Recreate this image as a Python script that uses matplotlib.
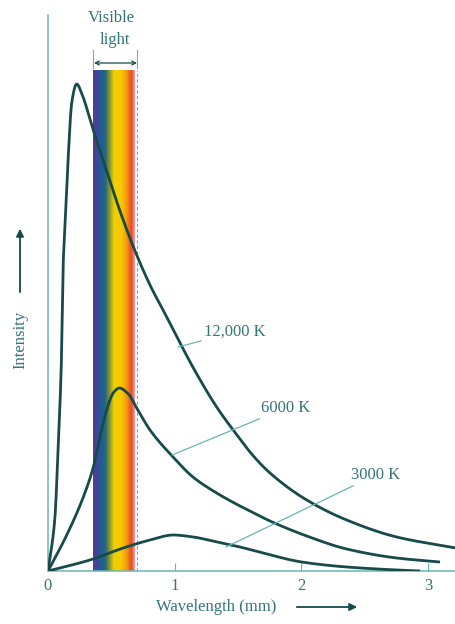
import numpy as np
import matplotlib.pyplot as plt
from matplotlib.colors import LinearSegmentedColormap
from matplotlib.patches import FancyArrowPatch

# values (wavelength in um, intensity in arbitrary units)
wl_12000 = [0, 0.055, 0.079, 0.108, 0.118, 0.134, 0.160, 0.187, 0.226, 0.268, 0.331,
            0.384, 0.463, 0.568, 0.700, 0.805, 0.937, 1.042, 1.174, 1.331, 1.515,
            1.594, 1.752, 2.042, 2.357, 2.752, 3.220]
int_12000 = [0, 54, 121, 221, 300, 345, 415, 468, 487, 477, 452,
             430, 400, 360, 316, 286, 254, 228, 197, 164, 132,
             119, 98, 71, 51, 34, 23]

wl_6000 = [0, 0.148, 0.279, 0.358, 0.410, 0.463, 0.515, 0.563, 0.634, 0.700, 0.805,
           0.987, 1.144, 1.331, 1.515, 1.594, 1.752, 2.042, 2.357, 2.752, 3.094]
int_6000 = [0, 36, 74, 104, 134, 161, 178, 183, 177, 163, 141,
            114, 94, 78, 65, 60, 50, 35, 22, 13, 9]

wl_3000 = [0, 0.331, 0.594, 0.805, 0.989, 1.147, 1.331, 1.515, 1.697, 2.002, 2.357, 2.752, 2.936]
int_3000 = [0, 11, 23, 31, 36, 34, 29, 24, 18, 9, 4, 1, 0]

labels = ["12,000 K", "6000 K", "3000 K"]
visible = (0.355, 0.70)
xticks = [0, 1, 2, 3]

ink = "#174a4a"
axc = "#6ab4b4"
txt = "#357575"
font = "Liberation Serif"


def smooth(x, y, n=400):
    # monotone cubic (pchip) through the read points, only for drawing
    x = np.asarray(x, float)
    y = np.asarray(y, float)
    h = np.diff(x)
    d = np.diff(y) / h
    m = np.zeros_like(y)
    for k in range(1, len(x) - 1):
        if d[k - 1] * d[k] > 0:
            w1 = 2 * h[k] + h[k - 1]
            w2 = h[k] + 2 * h[k - 1]
            m[k] = (w1 + w2) / (w1 / d[k - 1] + w2 / d[k])
    m[0] = d[0]
    m[-1] = d[-1]
    xs = np.linspace(x[0], x[-1], n)
    idx = np.clip(np.searchsorted(x, xs) - 1, 0, len(x) - 2)
    t = (xs - x[idx]) / h[idx]
    h00 = 2 * t**3 - 3 * t**2 + 1
    h10 = t**3 - 2 * t**2 + t
    h01 = -2 * t**3 + 3 * t**2
    h11 = t**3 - t**2
    ys = h00 * y[idx] + h10 * h[idx] * m[idx] + h01 * y[idx + 1] + h11 * h[idx] * m[idx + 1]
    return xs, ys


fig = plt.figure(figsize=(4.56, 6.24), dpi=100)
ax = fig.add_axes([48/456, 53/624, 408/456, 556/624])
ax.set_xlim(0, 408/126.7)
ax.set_ylim(0, 556)

# visible band
spec = LinearSegmentedColormap.from_list("spec", [
    (0.0, "#5a3a8c"), (0.1, "#3a4a98"), (0.22, "#1d5e9a"), (0.3, "#2a6a70"),
    (0.4, "#8a9830"), (0.5, "#f0d000"), (0.68, "#f8c800"), (0.8, "#f59a10"),
    (0.92, "#e84a28"), (1.0, "#f0a0a0")])
grad = np.linspace(0, 1, 200).reshape(1, -1)
ax.imshow(grad, cmap=spec, aspect="auto", extent=[visible[0], visible[1] - 0.015, 0, 501],
          zorder=1)
ax.plot([visible[1], visible[1]], [0, 501], color=axc, lw=0.8, ls=(0, (3, 2)), zorder=1)

for wl, inten in [(wl_12000, int_12000), (wl_6000, int_6000), (wl_3000, int_3000)]:
    xs, ys = smooth(wl, inten)
    ax.plot(xs, ys, color=ink, lw=2.0, zorder=3, solid_capstyle="butt")

for s in ["top", "right"]:
    ax.spines[s].set_visible(False)
for s in ["left", "bottom"]:
    ax.spines[s].set_color(axc)
    ax.spines[s].set_linewidth(1.1)
ax.set_xticks(xticks)
ax.set_xticklabels([str(t) for t in xticks], family=font, color=txt, fontsize=12)
ax.tick_params(axis="x", direction="in", length=6, color=axc, pad=5)
ax.set_yticks([])
ax.xaxis.get_major_ticks()[0].tick1line.set_visible(False)


def px(x, y):
    return ((x - 48) / 126.7, 571 - y)


# leader lines and labels
for lab, a, b in [(labels[0], (178, 347), (204, 332)),
                  (labels[1], (172, 455), (261, 408)),
                  (labels[2], (226, 547), (351, 475))]:
    ax.annotate(lab, xy=px(*a), xytext=px(*b), color=txt, fontsize=12,
                family=font, va="center",
                arrowprops=dict(arrowstyle="-", color=axc, lw=0.9, shrinkA=0, shrinkB=0))

# visible light marker
ax.text(*px(111, 18), "Visible", ha="center", va="center", color=txt, fontsize=12,
        family=font, clip_on=False)
ax.text(*px(115, 40), "light", ha="center", va="center", color=txt, fontsize=12,
        family=font, clip_on=False)
ax.annotate("", xy=px(94, 63), xytext=px(137, 63),
            arrowprops=dict(arrowstyle="<->", color=ink, lw=0.9, shrinkA=0, shrinkB=0,
                            mutation_scale=7), annotation_clip=False)
for xv in visible:
    ax.plot([xv, xv], [571 - 68, 571 - 50], color=axc, lw=0.8, clip_on=False)

# axis titles with arrows
fig.text(216/456, 1 - 607/624, "Wavelength (mm)", ha="center", va="center", color=txt,
         fontsize=12, family=font)
fig.patches.append(FancyArrowPatch(
    (294/456, 1 - 607/624), (360/456, 1 - 607/624), transform=fig.transFigure,
    arrowstyle="-|>", mutation_scale=11, color=ink, lw=1.3))
fig.text(20/456, 1 - 340/624, "Intensity", ha="center", va="center", rotation=90,
         color=txt, fontsize=12, family=font)
fig.patches.append(FancyArrowPatch(
    (20/456, 1 - 295/624), (20/456, 1 - 226/624), transform=fig.transFigure,
    arrowstyle="-|>", mutation_scale=11, color=ink, lw=1.3))

fig.savefig("out.png", dpi=100)
